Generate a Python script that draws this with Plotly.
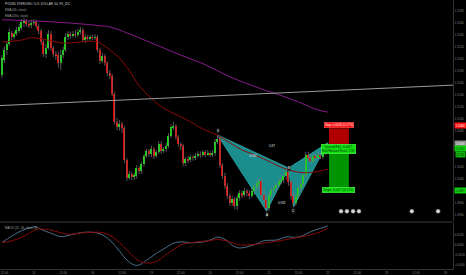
import plotly.graph_objects as go

# ---------------- data (GBPUSD, 60 min) ----------------
opens = [1.5173, 1.5198, 1.5215, 1.5225, 1.5243, 1.5236, 1.5241, 1.5246, 1.5251, 1.5260,
         1.5263, 1.5258, 1.5256, 1.5260, 1.5261, 1.5255, 1.5246, 1.5228, 1.5208, 1.5218,
         1.5241, 1.5218, 1.5208, 1.5206, 1.5193, 1.5206, 1.5215, 1.5236, 1.5241, 1.5238,
         1.5241, 1.5240, 1.5245, 1.5248, 1.5231, 1.5236, 1.5233, 1.5236, 1.5235, 1.5236,
         1.5215, 1.5196, 1.5205, 1.5193, 1.5176, 1.5171, 1.5141, 1.5095, 1.5086, 1.5091,
         1.5085, 1.5031, 1.5001, 1.5008, 1.5003, 1.5005, 1.5018, 1.5013, 1.5025, 1.5038,
         1.5046, 1.5041, 1.5050, 1.5038, 1.5045, 1.5058, 1.5046, 1.5050, 1.5055, 1.5071,
         1.5086, 1.5088, 1.5070, 1.5058, 1.5055, 1.5026, 1.5033, 1.5031, 1.5036, 1.5035,
         1.5038, 1.5041, 1.5040, 1.5045, 1.5040, 1.5043, 1.5040, 1.5043, 1.5061, 1.5066,
         1.5023, 1.5005, 1.4988, 1.4971, 1.4960, 1.4966, 1.4955, 1.4968, 1.4976, 1.4973,
         1.4980, 1.4976, 1.4971, 1.4980, 1.4986, 1.4993, 1.4996, 1.4973, 1.4965, 1.4951,
         1.4973, 1.4981, 1.4985, 1.4990, 1.4996, 1.4998, 1.5005, 1.5011, 1.4995, 1.4971,
         1.4960, 1.4971, 1.4985, 1.4991, 1.5006, 1.5040, 1.5035, 1.5030, 1.5038, 1.5035,
         1.5040, 1.5036, 1.5043, 1.5048]
highs = [1.5206, 1.5221, 1.5228, 1.5250, 1.5246, 1.5245, 1.5253, 1.5258, 1.5266, 1.5268,
         1.5266, 1.5263, 1.5265, 1.5266, 1.5265, 1.5258, 1.5250, 1.5231, 1.5225, 1.5248,
         1.5246, 1.5221, 1.5213, 1.5211, 1.5215, 1.5220, 1.5243, 1.5246, 1.5245, 1.5246,
         1.5248, 1.5250, 1.5253, 1.5251, 1.5241, 1.5240, 1.5240, 1.5240, 1.5241, 1.5240,
         1.5218, 1.5210, 1.5208, 1.5196, 1.5181, 1.5175, 1.5145, 1.5101, 1.5098, 1.5095,
         1.5088, 1.5035, 1.5013, 1.5011, 1.5010, 1.5023, 1.5021, 1.5028, 1.5041, 1.5050,
         1.5050, 1.5055, 1.5053, 1.5048, 1.5063, 1.5063, 1.5053, 1.5060, 1.5076, 1.5091,
         1.5095, 1.5091, 1.5073, 1.5061, 1.5058, 1.5036, 1.5038, 1.5040, 1.5040, 1.5043,
         1.5046, 1.5046, 1.5048, 1.5048, 1.5048, 1.5046, 1.5048, 1.5066, 1.5073, 1.5070,
         1.5026, 1.5010, 1.4993, 1.4976, 1.4971, 1.4970, 1.4973, 1.4981, 1.4981, 1.4985,
         1.4983, 1.4981, 1.4985, 1.4991, 1.4998, 1.5001, 1.5000, 1.4985, 1.4970, 1.4978,
         1.4986, 1.4990, 1.4993, 1.5001, 1.5003, 1.5010, 1.5018, 1.5018, 1.4998, 1.4978,
         1.4976, 1.4990, 1.4998, 1.5011, 1.5045, 1.5045, 1.5040, 1.5043, 1.5041, 1.5045,
         1.5043, 1.5048, 1.5053, 1.5060]
lows = [1.5168, 1.5193, 1.5206, 1.5221, 1.5231, 1.5233, 1.5238, 1.5243, 1.5248, 1.5253,
        1.5253, 1.5251, 1.5251, 1.5255, 1.5250, 1.5241, 1.5223, 1.5203, 1.5201, 1.5215,
        1.5213, 1.5203, 1.5198, 1.5185, 1.5181, 1.5201, 1.5211, 1.5231, 1.5233, 1.5235,
        1.5235, 1.5236, 1.5240, 1.5228, 1.5226, 1.5230, 1.5230, 1.5231, 1.5231, 1.5210,
        1.5191, 1.5193, 1.5188, 1.5171, 1.5166, 1.5138, 1.5090, 1.5081, 1.5080, 1.5076,
        1.5026, 1.4996, 1.4998, 1.4998, 1.4998, 1.5000, 1.5008, 1.5008, 1.5020, 1.5035,
        1.5036, 1.5036, 1.5033, 1.5035, 1.5041, 1.5041, 1.5043, 1.5045, 1.5051, 1.5068,
        1.5081, 1.5065, 1.5053, 1.5048, 1.5021, 1.5021, 1.5026, 1.5028, 1.5030, 1.5031,
        1.5035, 1.5035, 1.5036, 1.5036, 1.5038, 1.5036, 1.5036, 1.5038, 1.5058, 1.5018,
        1.5000, 1.4983, 1.4966, 1.4955, 1.4955, 1.4950, 1.4948, 1.4963, 1.4968, 1.4970,
        1.4971, 1.4966, 1.4968, 1.4973, 1.4980, 1.4981, 1.4968, 1.4960, 1.4946, 1.4946,
        1.4968, 1.4976, 1.4980, 1.4986, 1.4991, 1.4993, 1.4998, 1.4988, 1.4965, 1.4953,
        1.4955, 1.4966, 1.4978, 1.4986, 1.5001, 1.5030, 1.5026, 1.5026, 1.5031, 1.5031,
        1.5033, 1.5033, 1.5040, 1.5046]
closes = [1.5201, 1.5215, 1.5225, 1.5245, 1.5236, 1.5241, 1.5248, 1.5253, 1.5261, 1.5263,
          1.5258, 1.5256, 1.5260, 1.5261, 1.5255, 1.5246, 1.5228, 1.5208, 1.5218, 1.5241,
          1.5218, 1.5208, 1.5205, 1.5193, 1.5206, 1.5215, 1.5236, 1.5241, 1.5238, 1.5241,
          1.5240, 1.5245, 1.5248, 1.5231, 1.5236, 1.5233, 1.5236, 1.5235, 1.5236, 1.5215,
          1.5196, 1.5205, 1.5193, 1.5176, 1.5171, 1.5141, 1.5095, 1.5086, 1.5091, 1.5085,
          1.5031, 1.5001, 1.5008, 1.5003, 1.5005, 1.5018, 1.5013, 1.5025, 1.5038, 1.5046,
          1.5041, 1.5050, 1.5038, 1.5045, 1.5058, 1.5046, 1.5050, 1.5055, 1.5071, 1.5086,
          1.5088, 1.5070, 1.5058, 1.5055, 1.5026, 1.5033, 1.5031, 1.5036, 1.5035, 1.5038,
          1.5041, 1.5040, 1.5045, 1.5040, 1.5043, 1.5040, 1.5043, 1.5061, 1.5066, 1.5023,
          1.5005, 1.4988, 1.4971, 1.4960, 1.4966, 1.4955, 1.4968, 1.4976, 1.4973, 1.4980,
          1.4976, 1.4971, 1.4980, 1.4986, 1.4993, 1.4996, 1.4973, 1.4965, 1.4951, 1.4973,
          1.4981, 1.4985, 1.4990, 1.4996, 1.4998, 1.5005, 1.5011, 1.4995, 1.4971, 1.4960,
          1.4971, 1.4985, 1.4991, 1.5006, 1.5040, 1.5035, 1.5030, 1.5038, 1.5035, 1.5040,
          1.5036, 1.5043, 1.5048, 1.5051]

ema50_bars = [0, 8, 12, 20, 25, 32, 39, 43, 46, 48, 52, 56, 60, 65, 69, 73, 77, 81, 85, 89,
              93, 98, 103, 108, 112, 116, 121, 124, 127, 130, 133]
ema50_vals = [1.5228, 1.5231, 1.5235, 1.5230, 1.5226, 1.5228, 1.5228, 1.5218, 1.5208, 1.5201,
              1.5180, 1.5155, 1.5138, 1.5120, 1.5111, 1.5103, 1.5095, 1.5085, 1.5078, 1.5070,
              1.5060, 1.5048, 1.5040, 1.5031, 1.5023, 1.5016, 1.5011, 1.5010, 1.5011, 1.5013, 1.5016]
ema200_bars = [0, 12, 26, 40, 44, 51, 60, 73, 83, 93, 105, 113, 121, 128, 133]
ema200_vals = [1.5265, 1.5263, 1.5260, 1.5255, 1.5253, 1.5243, 1.5228, 1.5206, 1.5190, 1.5170,
               1.5151, 1.5140, 1.5128, 1.5116, 1.5111]

macd_bars = [0, 4, 9, 14, 16, 20, 24, 28, 32, 37, 41, 45, 48, 51, 54, 56, 59, 63, 67, 70, 73,
             77, 81, 85, 88, 92, 94, 97, 103, 107, 112, 116, 120, 123, 126, 130, 133]
macd_vals = [0.00046, 0.0018, 0.00306, 0.00364, 0.0031, 0.00236, 0.00168, 0.00202, 0.00246,
             0.00254, 0.00202, 0.00052, -0.00124, -0.0030, -0.0040, -0.0040, -0.00306, -0.00168,
             -0.0005, 0.00036, 0.00064, 0.00046, 0.00052, 0.0010, 0.00158, 0.00084, -0.0001,
             -0.0006, 0.00006, 0.00086, 0.0010, 0.00162, 0.00154, 0.0019, 0.00268, 0.00334, 0.0038]
signal_vals = [0.00046, 0.00082, 0.00176, 0.00312, 0.0032, 0.00298, 0.00244, 0.00212, 0.0024,
               0.00254, 0.00246, 0.00166, 0.00048, -0.0010, -0.00246, -0.0032, -0.0036, -0.0033,
               -0.00192, -0.00094, 0.00004, 0.00046, 0.00068, 0.0009, 0.00112, 0.00074, 0.00044,
               0.0, 0.00012, 0.0004, 0.00076, 0.00108, 0.00146, 0.00168, 0.00202, 0.00264, 0.00332]

# XABCD pattern points (bar, price)
pat_names = ["X", "A", "B", "C", "D"]
pat_bars = [88, 108, 117, 119, 133]
pat_prices = [1.5073, 1.4946, 1.5018, 1.4953, 1.5060]
ratio_texts = ["0.943", "0.87", "0.932"]
ratio_bars = [102.4, 110.2, 114.3]
ratio_prices = [1.5038, 1.5055, 1.4960]

# trend line
trend_bars = [-0.8, 184.1]
trend_prices = [1.5122, 1.5156]

# short position tool
pos_bars = [133.5, 141.6]
stop_price = 1.5084
entry_price = 1.5058
target_price = 1.4981
last_price = 1.5051

# price-axis ticks (1.5060 and 1.5040 are hidden behind the entry / countdown labels)
price_ticks = [1.5280, 1.5260, 1.5240, 1.5220, 1.5200, 1.5180, 1.5160, 1.5140, 1.5120, 1.5100,
               1.5080, 1.5020, 1.5000, 1.4980, 1.4960, 1.4940]
macd_ticks = [0.0020, 0.0, -0.0020, -0.0040]
time_tick_bars = [1, 13, 25, 37, 49, 61, 73, 85, 97, 109, 121, 133, 145, 157, 169, 181]
time_tick_labels = ["12:00", "15", "12:00", "16", "12:00", "19", "12:00", "20", "12:00", "21",
                    "12:00", "22", "12:00", "23", "12:00", "26"]
event_bars = [138.4, 140.8, 143.3, 145.7, 167.3, 178.0]

# ---------------- styling ----------------
BG = "#000000"
GREEN = "#00e600"
RED = "#e60000"
WICK = "#7a7a7a"
AXC = "#808080"
FONT = "Liberation Sans"

bars = list(range(len(closes)))
body_base = [min(o, c) for o, c in zip(opens, closes)]
body_h = [max(abs(c - o), 0.00005) for o, c in zip(opens, closes)]
body_col = [GREEN if c >= o else RED for o, c in zip(opens, closes)]
wx, wy = [], []
for b, h, l in zip(bars, highs, lows):
    wx += [b, b, None]
    wy += [l, h, None]

fig = go.Figure()
fig.add_trace(go.Scatter(x=wx, y=wy, mode="lines", line=dict(color=WICK, width=0.7),
                         xaxis="x", yaxis="y", hoverinfo="skip"))
fig.add_trace(go.Bar(x=bars, y=body_h, base=body_base, width=0.62,
                     marker=dict(color=body_col, line=dict(width=0)), xaxis="x", yaxis="y"))
fig.add_trace(go.Scatter(x=ema50_bars, y=ema50_vals, mode="lines", line=dict(color="#8b0a0a", width=1, shape="spline"),
                         xaxis="x", yaxis="y"))
fig.add_trace(go.Scatter(x=ema200_bars, y=ema200_vals, mode="lines", line=dict(color="#8a1a8a", width=1, shape="spline"),
                         xaxis="x", yaxis="y"))
fig.add_trace(go.Scatter(x=event_bars, y=[1.4946] * len(event_bars), mode="markers",
                         marker=dict(symbol="circle", size=4, color="#d8d8d8", line=dict(color="#888", width=0.5)),
                         xaxis="x", yaxis="y"))
fig.add_trace(go.Scatter(x=macd_bars, y=macd_vals, mode="lines", line=dict(color="#4d6e8c", width=1, shape="spline"),
                         xaxis="x2", yaxis="y2"))
fig.add_trace(go.Scatter(x=macd_bars, y=signal_vals, mode="lines", line=dict(color="#8b0a0a", width=1, shape="spline"),
                         xaxis="x2", yaxis="y2"))

shapes = []
TEAL = "rgba(32,160,160,0.88)"
for tri in ([0, 1, 2], [2, 3, 4]):
    pts = [(pat_bars[k], pat_prices[k]) for k in tri]
    path = "M {} {} L {} {} L {} {} Z".format(*[v for p in pts for v in p])
    shapes.append(dict(type="path", path=path, xref="x", yref="y", fillcolor=TEAL,
                       line=dict(color="#2aa8a8", width=0.8), layer="below"))
shapes.append(dict(type="line", xref="x", yref="y", x0=trend_bars[0], y0=trend_prices[0],
                   x1=trend_bars[1], y1=trend_prices[1], line=dict(color="#9a9a9a", width=1)))
shapes.append(dict(type="rect", xref="x", yref="y", x0=pos_bars[0], x1=pos_bars[1], y0=entry_price,
                   y1=stop_price, fillcolor="#b00000", line=dict(width=0)))
shapes.append(dict(type="rect", xref="x", yref="y", x0=pos_bars[0], x1=pos_bars[1], y0=target_price,
                   y1=entry_price, fillcolor="#009400", line=dict(width=0)))
shapes.append(dict(type="line", xref="paper", yref="paper", x0=0, x1=1, y0=0.1747, y1=0.1747,
                   line=dict(color="#3a3a3a", width=1)))

ann = []
def A(**kw):
    d = dict(showarrow=False, font=dict(family=FONT, size=3, color="#cfcfcf"))
    d.update(kw)
    ann.append(d)

A(text="POUND STERLING / U.S. DOLLAR, 60, FX_IDC", xref="paper", yref="paper", x=0, xshift=3,
  y=0.985, xanchor="left", yanchor="middle", font=dict(family=FONT, size=3, color="#d0d0d0"))
A(text="EMA (50, close)", xref="paper", yref="paper", x=0, xshift=3, y=0.962,
  xanchor="left", yanchor="middle", font=dict(family=FONT, size=3, color="#a0a0a0"))
A(text="EMA (200, close)", xref="paper", yref="paper", x=0, xshift=3, y=0.940,
  xanchor="left", yanchor="middle", font=dict(family=FONT, size=3, color="#a0a0a0"))
A(text="MACD (12, 26, close, 9)", xref="paper", yref="paper", x=0, xshift=3, y=0.152,
  xanchor="left", yanchor="middle", font=dict(family=FONT, size=3, color="#a0a0a0"))

for nm, b, p in zip(pat_names[:4], pat_bars[:4], pat_prices[:4]):
    yoff = {"X": 4, "A": -4, "B": 0, "C": -4}[nm]
    A(text=nm, x=b, y=p, xref="x", yref="y", yshift=yoff, font=dict(family=FONT, size=3, color="#ffffff"),
      bgcolor="#1a1a1a", borderpad=0)
for t, b, p in zip(ratio_texts, ratio_bars, ratio_prices):
    A(text=t, x=b, y=p, xref="x", yref="y", font=dict(family=FONT, size=3, color="#e0e0e0"))

mid = (pos_bars[0] + pos_bars[1]) / 2
A(text="Stop: 0.0026 (0.17%)", x=mid, y=stop_price, xref="x", yref="y", yanchor="bottom",
  bgcolor="#ff1010", bordercolor="#ff6060", borderwidth=0.5, borderpad=0.5,
  font=dict(family=FONT, size=3, color="#ffffff"))
A(text="Opened P&L: 0.0007<br>Risk/Reward Ratio: 2.96", x=mid, y=entry_price, xref="x", yref="y",
  yanchor="top", bgcolor="#10e010", bordercolor="#60ff60", borderwidth=0.5, borderpad=0.5,
  font=dict(family=FONT, size=3, color="#103010"))
A(text="Target: 0.0077 (0.51%)", x=mid, y=target_price, xref="x", yref="y", yanchor="middle",
  bgcolor="#10e010", bordercolor="#60ff60", borderwidth=0.5, borderpad=0.5,
  font=dict(family=FONT, size=3, color="#103010"))

for p, bg, fc, ys in [(stop_price, "#ff1010", "#ffffff", 2.5), (entry_price, "#8a8a8a", "#ffffff", 0),
                      (last_price, "#10d010", "#103010", 0), (target_price, "#10d010", "#103010", 0)]:
    A(text="{:.4f}".format(p), x=1, xref="paper", y=p, yref="y", xanchor="left", xshift=0.5, yshift=ys,
      bgcolor=bg, borderpad=0.5, font=dict(family=FONT, size=3, color=fc))
A(text="07:26", x=1, xref="paper", y=last_price, yref="y", xanchor="left", xshift=2, yshift=-6,
  bgcolor="#10b010", borderpad=0.5, font=dict(family=FONT, size=3, color="#103010"))

fig.update_layout(
    width=466, height=275, margin=dict(l=0, r=13, t=0, b=6),
    paper_bgcolor=BG, plot_bgcolor=BG, showlegend=False, bargap=0,
    shapes=shapes, annotations=ann,
    xaxis=dict(domain=[0, 1], range=[-0.8, 184.1], anchor="y", showticklabels=False,
               showgrid=False, zeroline=False, fixedrange=True),
    yaxis=dict(domain=[0.1784, 1], range=[1.49297, 1.52978], side="right", tickvals=price_ticks,
               ticktext=["{:.4f}".format(v) for v in price_ticks], tickfont=dict(family=FONT, size=3, color=AXC),
               showgrid=False, zeroline=False, showline=True, linecolor="#333333", linewidth=1, ticks=""),
    xaxis2=dict(domain=[0, 1], range=[-0.8, 184.1], anchor="y2", matches="x", tickvals=time_tick_bars,
                ticktext=time_tick_labels, tickfont=dict(family=FONT, size=3, color=AXC),
                showgrid=False, zeroline=False, showline=True, linecolor="#333333", linewidth=1, ticks=""),
    yaxis2=dict(domain=[0, 0.171], range=[-0.0048, 0.0044], side="right", anchor="x2", tickvals=macd_ticks,
                ticktext=["{:.4f}".format(v) for v in macd_ticks], tickfont=dict(family=FONT, size=3, color=AXC),
                showgrid=False, zeroline=False, showline=True, linecolor="#333333", linewidth=1, ticks=""),
)

fig.write_html("out.html")
